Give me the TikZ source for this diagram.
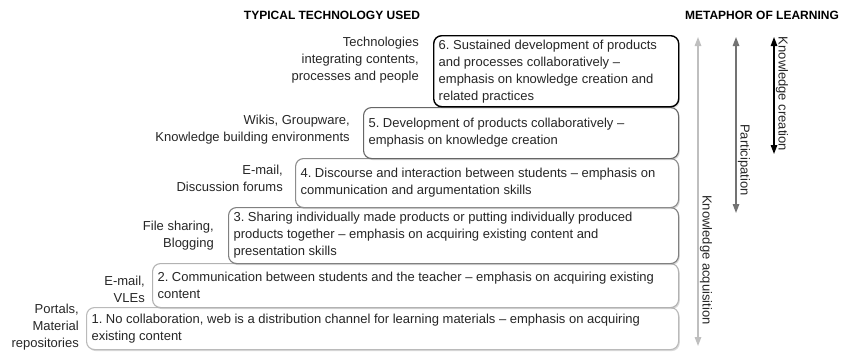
\documentclass[tikz,border=0pt]{standalone}
\usepackage{fontspec}
\setmainfont{Liberation Sans}
\usetikzlibrary{positioning,shadows,arrows.meta}
\frenchspacing

\begin{document}
\begin{tikzpicture}[x=1pt, y=-1pt,
  every node/.style={font=\fontsize{13}{17}\selectfont, text=black!85},
  level/.style={draw, fill=white, rounded corners=8pt, line width=1.1pt,
    anchor=north west, align=flush left, inner xsep=5pt, inner ysep=3pt,
    drop shadow={shadow xshift=1.2pt, shadow yshift=-1.5pt, opacity=0.3}},
  techlabel/.style={align=right, inner sep=0pt},
  heading/.style={font=\fontsize{12}{14}\selectfont\bfseries, text=black},
  metaphor/.style={line width=1.3pt,
    {Triangle[length=9pt,width=6.5pt]}-{Triangle[length=9pt,width=6.5pt]}},
  metalabel/.style={rotate=-90, inner sep=0pt}]
  % Define colors
  \colorlet{levelone}{black!27}
  \colorlet{leveltwo}{black!30}
  \colorlet{levelthree}{black!50}
  \colorlet{levelfour}{black!45}
  \colorlet{levelfive}{black!60}
  \colorlet{levelsix}{black}
  \colorlet{acqcolor}{black!25}
  \colorlet{partcolor}{black!55}
  \colorlet{crecolor}{black}

  \useasboundingbox (0,0) rectangle (842,351);

  % Column titles
  \node[heading] (techhead) at (332,15) {TYPICAL TECHNOLOGY USED};
  \node[heading] (metahead) at (762,15) {METAPHOR OF LEARNING};

  % Levels, from the bottom step up
  \node[level, draw=levelone, text width=582pt, minimum height=42pt] (b1) at (86,307)
    {1. No collaboration, web is a distribution channel for learning materials -- emphasis on acquiring\\ existing content};
  \node[level, draw=leveltwo, text width=516pt, minimum height=44pt] (b2) at (152,263)
    {2. Communication between students and the teacher -- emphasis on acquiring existing\\ content};
  \node[level, draw=levelthree, text width=440pt, minimum height=56pt] (b3) at (228,207)
    {3. Sharing individually made products or putting individually produced\\ products together -- emphasis on acquiring existing content and\\ presentation skills};
  \node[level, draw=levelfour, text width=373pt, minimum height=49pt] (b4) at (295,158)
    {4. Discourse and interaction between students -- emphasis on\\ communication and argumentation skills};
  \node[level, draw=levelfive, text width=305pt, minimum height=51pt] (b5) at (363,107)
    {5. Development of products collaboratively --\\ emphasis on knowledge creation};
  \node[level, draw=levelsix, line width=1.4pt, text width=235pt, minimum height=71pt] (b6) at (433,35)
    {6. Sustained development of products\\ and processes collaboratively --\\ emphasis on knowledge creation and\\ related practices};

  % Technologies next to each level
  \node[techlabel, left=7pt of b1, yshift=1pt] (t1) {Portals,\\ Material\\ repositories};
  \node[techlabel, left=7pt of b2, yshift=-4pt] (t2) {E-mail,\\ VLEs};
  \node[techlabel, left=14pt of b3] (t3) {File sharing,\\ Blogging};
  \node[techlabel, left=12pt of b4, yshift=5pt] (t4) {E-mail,\\ Discussion forums};
  \node[techlabel, left=13pt of b5, yshift=3pt] (t5) {Wikis, Groupware,\\ Knowledge building environments};
  \node[techlabel, left=14pt of b6, yshift=11pt] (t6) {Technologies\\ integrating contents,\\ processes and people};

  % Metaphor arrows
  \coordinate (acqtop) at (698,37);
  \coordinate (acqbot) at (698,346);
  \coordinate (parttop) at (736,37);
  \coordinate (partbot) at (736,213);
  \coordinate (cretop) at (774,37);
  \coordinate (crebot) at (774,154);
  \draw[metaphor, acqcolor] (acqtop) -- (acqbot);
  \draw[metaphor, partcolor] (parttop) -- (partbot);
  \draw[metaphor, crecolor] (cretop) -- (crebot);

  \node[metalabel] (acqlabel) at (706,260) {Knowledge acquisition};
  \node[metalabel] (partlabel) at (744,160) {Participation};
  \node[metalabel] (crelabel) at (782,94) {Knowledge creation};

\end{tikzpicture}
\end{document}
